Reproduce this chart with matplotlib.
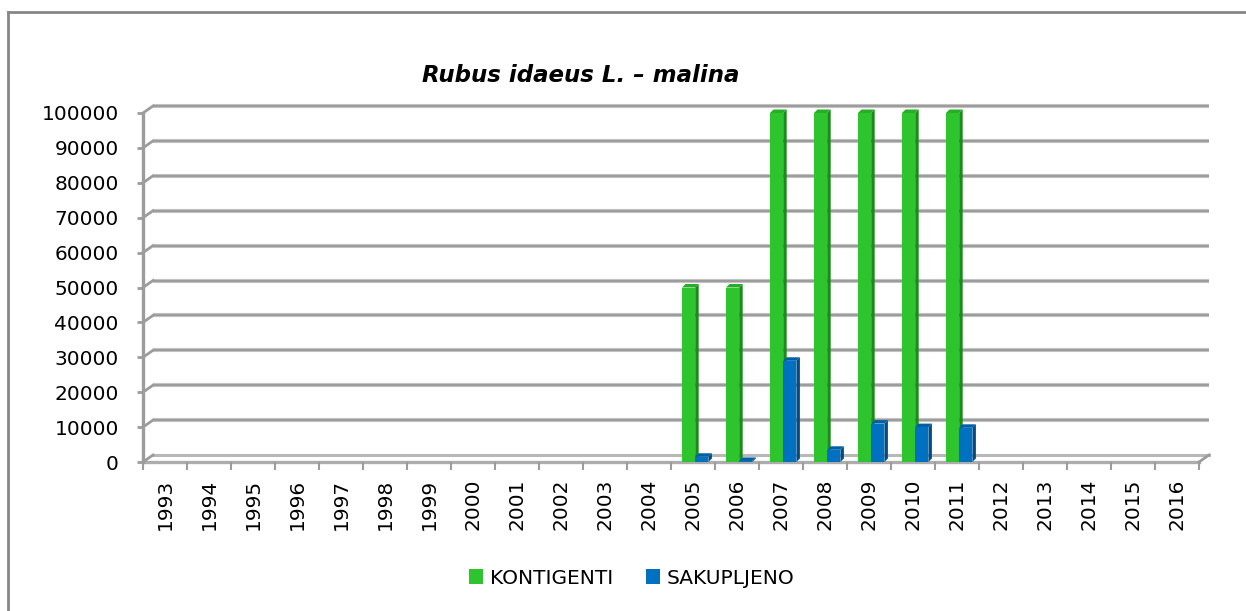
import matplotlib
matplotlib.use("Agg")
import matplotlib.pyplot as plt
from matplotlib.patches import Polygon, Patch
from matplotlib.lines import Line2D

# ---- data -------------------------------------------------------------
years = ["1993", "1994", "1995", "1996", "1997", "1998", "1999", "2000",
         "2001", "2002", "2003", "2004", "2005", "2006", "2007", "2008",
         "2009", "2010", "2011", "2012", "2013", "2014", "2015", "2016"]
kontigenti = [0, 0, 0, 0, 0, 0, 0, 0, 0, 0, 0, 0,
              50000, 50000, 100000, 100000, 100000, 100000, 100000,
              0, 0, 0, 0, 0]
sakupljeno = [0, 0, 0, 0, 0, 0, 0, 0, 0, 0, 0, 0,
              1500, 300, 29000, 3500, 11000, 10000, 9800,
              0, 0, 0, 0, 0]
series_names = ["KONTIGENTI", "SAKUPLJENO"]
yticks = [0, 10000, 20000, 30000, 40000, 50000, 60000, 70000, 80000, 90000, 100000]
title = "Rubus idaeus L. – malina"

# ---- styling ----------------------------------------------------------
GREEN, GREEN_SIDE, GREEN_TOP = "#2EC42E", "#1E8A1E", "#27AE27"
BLUE, BLUE_SIDE, BLUE_TOP = "#0070C0", "#004C86", "#0060A6"
GRID = "#9C9C9C"
FONT = "DejaVu Sans"

W, H = 1246, 611
fig = plt.figure(figsize=(W / 100, H / 100), dpi=100)
fig.patch.set_facecolor("white")

# plot area in pixels
x0, x1 = 143, 1199
y_bot, y_top = 462, 113
ax = fig.add_axes([x0 / W, (H - y_bot) / H, (x1 - x0) / W, (y_bot - y_top) / H])
ax.set_xlim(-0.5, len(years) - 0.5)
ax.set_ylim(0, 100000)
for s in ax.spines.values():
    s.set_visible(False)
ax.set_facecolor("none")

# pixel -> data conversion factors
px_x = (len(years)) / (x1 - x0)
px_y = 100000 / (y_bot - y_top)

# depth of the back wall and of the bars
wall_dx, wall_dy = 10 * px_x, 7 * px_y
bar_dx, bar_dy = 3.5 * px_x, 3.5 * px_y

xl, xr = -0.5, len(years) - 0.5

# back-wall gridlines with connectors to the front axis
for v in yticks:
    if v == 0:
        continue
    ax.plot([xl + wall_dx, xr + wall_dx], [v + wall_dy, v + wall_dy],
            color="#C4C4C4", lw=3.0, solid_capstyle="butt", clip_on=False, zorder=1)
    ax.plot([xl + wall_dx, xr + wall_dx], [v + wall_dy, v + wall_dy],
            color=GRID, lw=1.5, solid_capstyle="butt", clip_on=False, zorder=1)
    ax.plot([xl, xl + wall_dx], [v, v + wall_dy], color=GRID, lw=2,
            clip_on=False, zorder=1)

# floor
ax.plot([xl + wall_dx, xr + wall_dx], [wall_dy, wall_dy], color="#B8B8B8",
        lw=2.2, clip_on=False, zorder=1)
ax.plot([xl, xr], [0, 0], color="#ADADAD", lw=2.4, clip_on=False, zorder=1)
ax.plot([xl, xl + wall_dx], [0, wall_dy], color=GRID, lw=2, clip_on=False, zorder=1)
ax.plot([xr, xr + wall_dx], [0, wall_dy], color=GRID, lw=2, clip_on=False, zorder=1)
# front vertical axis
ax.plot([xl, xl], [0, 100000], color=GRID, lw=2.4, clip_on=False, zorder=1)

# bars with side and top faces
width = 0.3
offsets = [-0.1, 0.2]
faces = [(GREEN, GREEN_SIDE, GREEN_TOP), (BLUE, BLUE_SIDE, BLUE_TOP)]
for vals, off, (front, side, top) in zip([kontigenti, sakupljeno], offsets, faces):
    xs = [i + off for i in range(len(years))]
    for x, h in zip(xs, vals):
        if h <= 0:
            continue
        left, right = x - width / 2, x + width / 2
        ax.add_patch(Polygon([(right, 0), (right + bar_dx, bar_dy),
                              (right + bar_dx, h + bar_dy), (right, h)],
                             closed=True, fc=side, ec="none", zorder=3, clip_on=False))
        ax.add_patch(Polygon([(left, h), (right, h), (right + bar_dx, h + bar_dy),
                              (left + bar_dx, h + bar_dy)],
                             closed=True, fc=top, ec="none", zorder=3, clip_on=False))
    ax.bar([x for x, h in zip(xs, vals) if h > 0], [h for h in vals if h > 0],
           width=width, color=front, zorder=4)

# ticks and labels
ax.set_yticks(yticks)
ax.set_yticklabels([str(v) for v in yticks], fontsize=14.5, family=FONT)
ax.tick_params(axis="y", length=4.5, width=2, color=GRID, pad=13)
ax.set_xticks(range(len(years)))
ax.set_xticklabels(years, rotation=90, fontsize=14.5, family=FONT, va="top")
ax.tick_params(axis="x", which="major", length=0, pad=12)
ax.set_xticks([i - 0.5 for i in range(len(years) + 1)], minor=True)
ax.tick_params(axis="x", which="minor", length=6, width=1.5, color=GRID)

# title
fig.text(581 / W, 1 - 76 / H, title, ha="center", va="center",
         fontsize=16.5, fontweight="bold", fontstyle="italic", family=FONT)

# legend
handles = [Patch(facecolor=GREEN, edgecolor="none"),
           Patch(facecolor=BLUE, edgecolor="none")]
fig.legend(handles, series_names, loc="center", bbox_to_anchor=(632 / W, 1 - 578 / H),
           ncol=2, frameon=False, handlelength=0.7, handleheight=0.7,
           handletextpad=0.35, columnspacing=1.6,
           prop={"family": FONT, "size": 14.5})

# chart border (top and left edges)
fig.add_artist(Line2D([8 / W, 1.0], [1 - 12 / H, 1 - 12 / H], transform=fig.transFigure,
                      color="#868686", lw=2))
fig.add_artist(Line2D([8 / W, 8 / W], [0, 1 - 12 / H], transform=fig.transFigure,
                      color="#868686", lw=2))

fig.savefig("out.png", dpi=100, facecolor="white")
